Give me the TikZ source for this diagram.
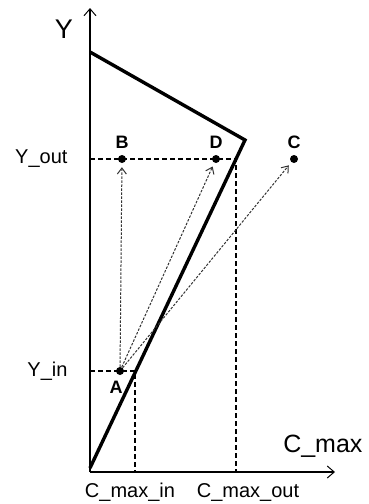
\documentclass[tikz,border=0pt]{standalone}
\usepackage{fontspec}
\setmainfont{Liberation Sans}
\usetikzlibrary{positioning, arrows.meta, calc}

\begin{document}
\begin{tikzpicture}[
  x=1pt, y=-1pt,
  font=\fontsize{20}{24}\selectfont,
  axis/.style={line width=1.2pt, -{Straight Barb[length=7pt, width=12pt, line width=1pt]}},
  curve/.style={line width=3.4pt, line join=miter},
  guide/.style={line width=1.1pt, dash pattern=on 5pt off 3pt},
  move/.style={line width=1pt, black!80, dash pattern=on 2.5pt off 1.5pt,
               -{Straight Barb[length=6pt, width=9pt, line width=1pt]}, shorten >=4pt},
  pt/.style={circle, fill=black, inner sep=0pt, minimum size=8pt},
  ptlabel/.style={font=\fontsize{18}{21}\selectfont\bfseries},
  ticklabel/.style={font=\fontsize{20}{24}\selectfont},
]
\useasboundingbox (0,0) rectangle (369,504);

% ================= axes =================
\coordinate (O) at (90,472);
\draw[axis] (O) -- (90,8) coordinate (ytip);
\draw[axis] (O) -- (335,472) coordinate (xtip);
\node[font=\fontsize{27}{30}\selectfont] (ylab) at (64,29) {Y};
\node[font=\fontsize{25}{28}\selectfont, anchor=base east] (xlab) at (366,452) {C\_max};

% ================= boundary =================
\coordinate (top) at (90,52);
\coordinate (peak) at (245,140);
\coordinate (low) at (90,468);
\draw[curve] (top) -- (peak) -- (low);

% ================= points =================
\node[pt] (A) at (120,371) {};
\node[pt] (B) at (122,159) {};
\node[pt] (D) at (216,159) {};
\node[pt] (C) at (294,159) {};
\node[ptlabel, below=2pt of A, xshift=-4pt] (lA) {A};
\node[ptlabel, above=3pt of B] (lB) {B};
\node[ptlabel, above=3pt of D] (lD) {D};
\node[ptlabel, above=3pt of C] (lC) {C};

% ================= guides =================
\coordinate (out) at (236,159);
\coordinate (in) at (135,371);
\draw[guide] (O |- out) -- (out) -- (out |- O);
\draw[guide] (O |- in) -- (in) -- (in |- O);
\node[ticklabel, anchor=east] (yout) at (71,159) {Y\_out};
\node[ticklabel, anchor=east] (yin) at (71,371) {Y\_in};
\node[ticklabel, anchor=base] (cin) at (130,497) {C\_max\_in};
\node[ticklabel, anchor=base] (cout) at (248,497) {C\_max\_out};

% ================= moves from A =================
\draw[move] (A) -- (B);
\draw[move] (A) -- (D);
\draw[move] (A) -- (C);

\end{tikzpicture}
\end{document}
